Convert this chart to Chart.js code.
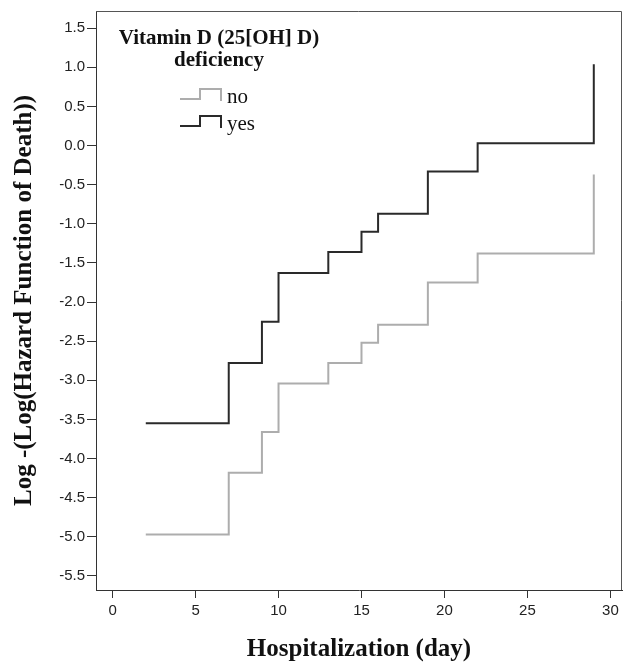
<!DOCTYPE html>
<html lang="en">
<head>
  <meta charset="UTF-8">
  <title>Log minus log plot - Vitamin D deficiency</title>
  <script src="https://cdn.jsdelivr.net/npm/chart.js"></script>
  <style>
    body { margin: 0; background: #fff; }
    #chart-container { width: 625px; height: 667px; }
  </style>
</head>
<body>
<div id="chart-container">
  <canvas id="llChart" width="625" height="667"></canvas>
</div>

<script>
  // step points (day, value)
  const days = [2, 7, 9, 10, 13, 15, 16, 19, 22, 29];
  const noValues = [-4.97, -4.18, -3.66, -3.04, -2.78, -2.52, -2.29, -1.75, -1.38, -0.37];
  const yesValues = [-3.55, -2.78, -2.25, -1.63, -1.36, -1.10, -0.87, -0.33, 0.03, 1.04];

  const legendTitle = ['Vitamin D (25[OH] D)', 'deficiency'];
  const legendLabels = ['no', 'yes'];
  const lineColors = ['#adadad', '#2a2a2a'];

  const xTitle = 'Hospitalization (day)';
  const yTitle = 'Log -(Log(Hazard Function of Death))';

  function toPoints(values) {
    return days.map(function (d, i) { return { x: d, y: values[i] }; });
  }

  // top and right edge of the box
  const framePlugin = {
    id: 'frame',
    afterDraw: function (chart) {
      const a = chart.chartArea;
      const ctx = chart.ctx;
      ctx.save();
      ctx.strokeStyle = '#555';
      ctx.lineWidth = 1;
      ctx.beginPath();
      ctx.moveTo(a.left, a.top + 0.5);
      ctx.lineTo(a.right - 0.5, a.top + 0.5);
      ctx.lineTo(a.right - 0.5, a.bottom);
      ctx.stroke();
      ctx.restore();
    }
  };

  // SPSS style legend with little step icons
  const stepLegend = {
    id: 'stepLegend',
    afterDraw: function (chart) {
      const a = chart.chartArea;
      const ctx = chart.ctx;
      const cx = a.left + 123;
      ctx.save();
      ctx.fillStyle = '#111';
      ctx.textAlign = 'center';
      ctx.textBaseline = 'alphabetic';
      ctx.font = 'bold 21px "Liberation Serif", serif';
      ctx.fillText(legendTitle[0], cx, a.top + 33);
      ctx.fillText(legendTitle[1], cx, a.top + 55);

      ctx.textAlign = 'left';
      ctx.textBaseline = 'middle';
      ctx.font = '21px "Liberation Serif", serif';
      legendLabels.forEach(function (lab, i) {
        const y = a.top + 88 + i * 27;
        const x0 = a.left + 84;
        ctx.strokeStyle = lineColors[i];
        ctx.lineWidth = 2;
        ctx.beginPath();
        ctx.moveTo(x0, y);
        ctx.lineTo(x0 + 20, y);
        ctx.lineTo(x0 + 20, y - 10);
        ctx.lineTo(x0 + 41, y - 10);
        ctx.lineTo(x0 + 41, y + 2);
        ctx.stroke();
        ctx.fillText(lab, x0 + 47, y - 2);
      });
      ctx.restore();
    }
  };

  const ctx = document.getElementById('llChart').getContext('2d');
  new Chart(ctx, {
    type: 'line',
    data: {
      datasets: [
        {
          label: legendLabels[0],
          data: toPoints(noValues),
          stepped: 'before',
          borderColor: lineColors[0],
          borderWidth: 2,
          pointRadius: 0,
          fill: false
        },
        {
          label: legendLabels[1],
          data: toPoints(yesValues),
          stepped: 'before',
          borderColor: lineColors[1],
          borderWidth: 2,
          pointRadius: 0,
          fill: false
        }
      ]
    },
    options: {
      responsive: false,
      animation: false,
      layout: { padding: { top: 10, right: 3, left: 0, bottom: 0 } },
      plugins: {
        legend: { display: false },
        tooltip: { enabled: false }
      },
      scales: {
        x: {
          type: 'linear',
          min: -1,
          max: 30.7,
          afterFit: function (s) { s.height = 77; },
          grid: { drawOnChartArea: false, tickLength: 8, color: '#333' },
          border: { color: '#333', width: 1 },
          ticks: {
            stepSize: 5,
            includeBounds: false,
            padding: 4,
            color: '#222',
            font: { family: 'Liberation Sans', size: 15 }
          },
          title: {
            display: true,
            text: xTitle,
            color: '#111',
            font: { family: 'Liberation Serif', size: 25, weight: 'bold' },
            padding: { top: 0, bottom: 2 }
          }
        },
        y: {
          type: 'linear',
          min: -5.68,
          max: 1.72,
          afterFit: function (s) { s.width = 96; },
          grid: { drawOnChartArea: false, tickLength: 9, color: '#333' },
          border: { color: '#333', width: 1 },
          ticks: {
            stepSize: 0.5,
            includeBounds: false,
            padding: 2,
            color: '#222',
            font: { family: 'Liberation Sans', size: 15 },
            callback: function (v) { return v.toFixed(1); }
          },
          title: {
            display: true,
            text: yTitle,
            color: '#111',
            font: { family: 'Liberation Serif', size: 25, weight: 'bold' },
            padding: { top: 10, bottom: 0 }
          }
        }
      }
    },
    plugins: [framePlugin, stepLegend]
  });
</script>
</body>
</html>
